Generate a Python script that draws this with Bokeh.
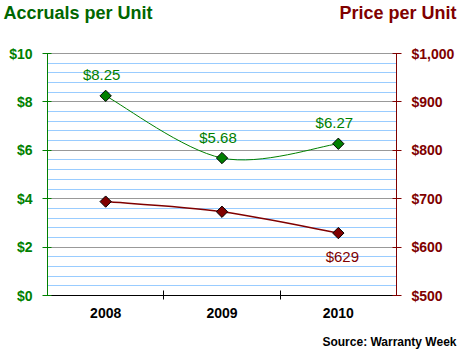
from math import pi
from bokeh.plotting import figure
from bokeh.models import (Range1d, LinearAxis, FixedTicker, SingleIntervalTicker,
                          LabelSet, ColumnDataSource, NumeralTickFormatter)
from bokeh.core.properties import value
from bokeh.embed import file_html
from bokeh.resources import INLINE

# ---- data ----
years = ["2008", "2009", "2010"]
accruals = [8.25, 5.68, 6.27]
prices = [694, 673, 629]
acc_range = (0, 10)
price_range = (500, 1000)
left_title = "Accruals per Unit"
right_title = "Price per Unit"
source_note = "Source: Warranty Week"

GREEN = "#008000"
DGREEN = "#006600"
RED = "#800000"
FONT = "Liberation Sans"

# ---- layout (pixels) ----
W, H = 458, 352
PL, PR, PT, PB = 47, 396, 53, 295   # plot area edges


def ext(lo, hi, px_lo, px_hi, pad_lo, pad_hi):
    k = (hi - lo) / (px_hi - px_lo)
    return lo - pad_lo * k, hi + pad_hi * k


n = len(years)
xpos = [i + 0.5 for i in range(n)]
xr = Range1d(*ext(0, n, PL, PR, PL, W - PR))
yr = Range1d(*ext(acc_range[0], acc_range[1], PT, PB, H - PB, PT))
pr = Range1d(*ext(price_range[0], price_range[1], PT, PB, H - PB, PT))

p = figure(frame_width=W, frame_height=H, output_backend="svg", toolbar_location=None,
           x_range=xr, y_range=yr,
           min_border_left=0, min_border_right=0, min_border_top=0, min_border_bottom=0)
p.outline_line_color = None
p.extra_y_ranges = {"price": pr}

acc_ticker = SingleIntervalTicker(interval=2, num_minor_ticks=5)
ya = p.yaxis[0]
ya.ticker = acc_ticker
ya.fixed_location = 0
ya.bounds = acc_range
ya.formatter = NumeralTickFormatter(format="$0")
ya.axis_line_color = GREEN
ya.major_tick_line_color = GREEN
ya.major_tick_in = 4
ya.major_tick_out = 5
ya.minor_tick_line_color = None
ya.major_label_text_color = GREEN
ya.major_label_text_font = FONT
ya.major_label_text_font_style = "bold"
ya.major_label_text_font_size = "14px"
ya.major_label_standoff = 10

p.ygrid.ticker = acc_ticker
p.ygrid.bounds = acc_range
p.ygrid.cross_bounds = (0, n)
p.ygrid.grid_line_color = "#999999"
p.ygrid.minor_grid_line_color = "#99CCFF"
p.xgrid.visible = False

ra = LinearAxis(y_range_name="price", ticker=SingleIntervalTicker(interval=100),
                formatter=NumeralTickFormatter(format="$0,0"))
ra.fixed_location = n
ra.bounds = price_range
ra.axis_line_color = RED
ra.major_tick_line_color = RED
ra.major_tick_in = 4
ra.major_tick_out = 5
ra.minor_tick_line_color = None
ra.major_label_text_color = RED
ra.major_label_text_font = FONT
ra.major_label_text_font_style = "bold"
ra.major_label_text_font_size = "14px"
ra.major_label_standoff = 10
p.add_layout(ra, "right")

xa = p.xaxis[0]
xa.ticker = FixedTicker(ticks=xpos, minor_ticks=list(range(1, n)))
xa.fixed_location = acc_range[0]
xa.bounds = (0, n)
xa.major_label_overrides = {x: y for x, y in zip(xpos, years)}
xa.axis_line_color = "black"
xa.major_tick_line_color = None
xa.minor_tick_line_color = "black"
xa.minor_tick_in = 5
xa.minor_tick_out = 4
xa.major_label_text_font = FONT
xa.major_label_text_font_style = "bold"
xa.major_label_text_font_size = "14px"
xa.major_label_text_color = "black"
xa.major_label_standoff = 6


def smooth(xs, ys):
    m = len(xs)
    out = dict(x0=[], y0=[], x1=[], y1=[], cx0=[], cy0=[], cx1=[], cy1=[])
    for i in range(m - 1):
        a = i - 1 if i > 0 else i
        d = i + 2 if i + 2 < m else i + 1
        out["x0"].append(xs[i]); out["y0"].append(ys[i])
        out["x1"].append(xs[i + 1]); out["y1"].append(ys[i + 1])
        out["cx0"].append(xs[i] + (xs[i + 1] - xs[a]) / 6)
        out["cy0"].append(ys[i] + (ys[i + 1] - ys[a]) / 6)
        out["cx1"].append(xs[i + 1] - (xs[d] - xs[i]) / 6)
        out["cy1"].append(ys[i + 1] - (ys[d] - ys[i]) / 6)
    return ColumnDataSource(out)


p.bezier(x0="x0", y0="y0", x1="x1", y1="y1", cx0="cx0", cy0="cy0", cx1="cx1", cy1="cy1",
         source=smooth(xpos, accruals), line_color=GREEN, line_width=1)
p.bezier(x0="x0", y0="y0", x1="x1", y1="y1", cx0="cx0", cy0="cy0", cx1="cx1", cy1="cy1",
         source=smooth(xpos, prices), line_color=RED, line_width=1.5, y_range_name="price")

p.scatter(xpos, accruals, marker="square", size=8, angle=pi / 4,
          fill_color=GREEN, line_color="black", line_width=1)
p.scatter(xpos, prices, marker="square", size=8, angle=pi / 4,
          fill_color=RED, line_color="black", line_width=1, y_range_name="price")

acc_src = ColumnDataSource(dict(x=xpos, y=accruals, t=[f"${v:.2f}" for v in accruals]))
p.add_layout(LabelSet(x="x", y="y", text="t", source=acc_src, x_offset=-4, y_offset=21,
                      text_align="center", text_baseline="middle", text_color=GREEN,
                      text_font=value(FONT), text_font_size="15px"))
pr_src = ColumnDataSource(dict(x=xpos[-1:], y=prices[-1:], t=[f"${v}" for v in prices[-1:]]))
p.add_layout(LabelSet(x="x", y="y", text="t", source=pr_src, y_range_name="price",
                      x_offset=4, y_offset=-23, text_align="center", text_baseline="middle",
                      text_color=RED, text_font=value(FONT), text_font_size="15px"))

# ---- titles and source (screen units: from left / from bottom) ----
lt = ColumnDataSource(dict(x=[3], y=[H - 12], t=[left_title]))
p.add_layout(LabelSet(x="x", y="y", text="t", source=lt, x_units="screen", y_units="screen",
                      text_align="left", text_baseline="middle", text_color=DGREEN,
                      text_font=value(FONT), text_font_style="bold", text_font_size="18px"))
rt = ColumnDataSource(dict(x=[W - 2], y=[H - 12], t=[right_title]))
p.add_layout(LabelSet(x="x", y="y", text="t", source=rt, x_units="screen", y_units="screen",
                      text_align="right", text_baseline="middle", text_color=RED,
                      text_font=value(FONT), text_font_style="bold", text_font_size="18px"))
sn = ColumnDataSource(dict(x=[W - 2], y=[H - 341], t=[source_note]))
p.add_layout(LabelSet(x="x", y="y", text="t", source=sn, x_units="screen", y_units="screen",
                      text_align="right", text_baseline="middle", text_color="black",
                      text_font=value(FONT), text_font_style="bold", text_font_size="12px"))

open("out.html", "w").write(file_html(p, INLINE))
